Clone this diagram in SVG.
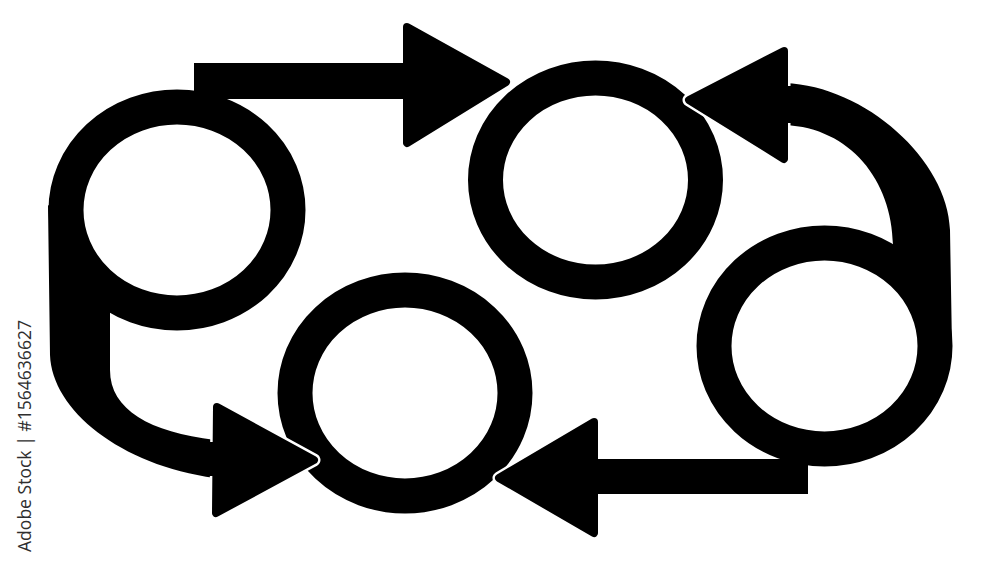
<svg xmlns="http://www.w3.org/2000/svg" width="1000" height="565" viewBox="0 0 1000 565">
<style>
.ring{fill:#fff;stroke:#000;stroke-width:35}
.band{fill:#000}
.halo{fill:#fff;stroke:#fff;stroke-width:13;stroke-linejoin:round}
.head{fill:#000;stroke:#000;stroke-width:8;stroke-linejoin:round}
.wm{font-family:"Open Sans","DejaVu Sans",sans-serif;font-size:17.5px;fill:#2e2e2e}
</style>
<rect width="1000" height="565" fill="#fff"/>
<g id="connectors-under">
<path class="band" d="M48,205 L50,355 C52,410 120,465 215,478 L215,440 C150,432 110,410 110,370 L110,250 Z"/>
<path class="band" d="M785,83 C865,86 948,160 950,230 L952,346 L893,300 L893,245 C892,180 850,128 785,125 Z"/>
</g>
<g id="node1"><ellipse class="ring" cx="177" cy="210" rx="111" ry="103"/></g>
<g id="node2"><ellipse class="ring" cx="595.5" cy="180" rx="110" ry="102"/></g>
<g id="node3"><ellipse class="ring" cx="405" cy="393" rx="110" ry="103"/></g>
<g id="node4"><ellipse class="ring" cx="824.5" cy="346" rx="110.5" ry="103"/></g>
<g id="connectors">
<polygon class="halo" points="407,27 506,82 407,143"/>
<polygon class="head" points="407,27 506,82 407,143"/>
<rect class="band" x="194" y="63" width="220" height="36"/>
<polygon class="halo" points="217,407 314,460 216,513"/>
<polygon class="head" points="217,407 314,460 216,513"/>
<rect class="band" x="204" y="442" width="22" height="34"/>
<polygon class="halo" points="784,51 689,100 784,159"/>
<polygon class="head" points="784,51 689,100 784,159"/>
<rect class="band" x="778" y="86" width="20" height="37"/>
<polygon class="halo" points="594,422 499,478 594,533"/>
<polygon class="head" points="594,422 499,478 594,533"/>
<rect class="band" x="588" y="459" width="220" height="35"/>
</g>
<text class="wm" transform="translate(31,552) rotate(-90)" textLength="232" lengthAdjust="spacingAndGlyphs">Adobe Stock | #1564636627</text>
</svg>
